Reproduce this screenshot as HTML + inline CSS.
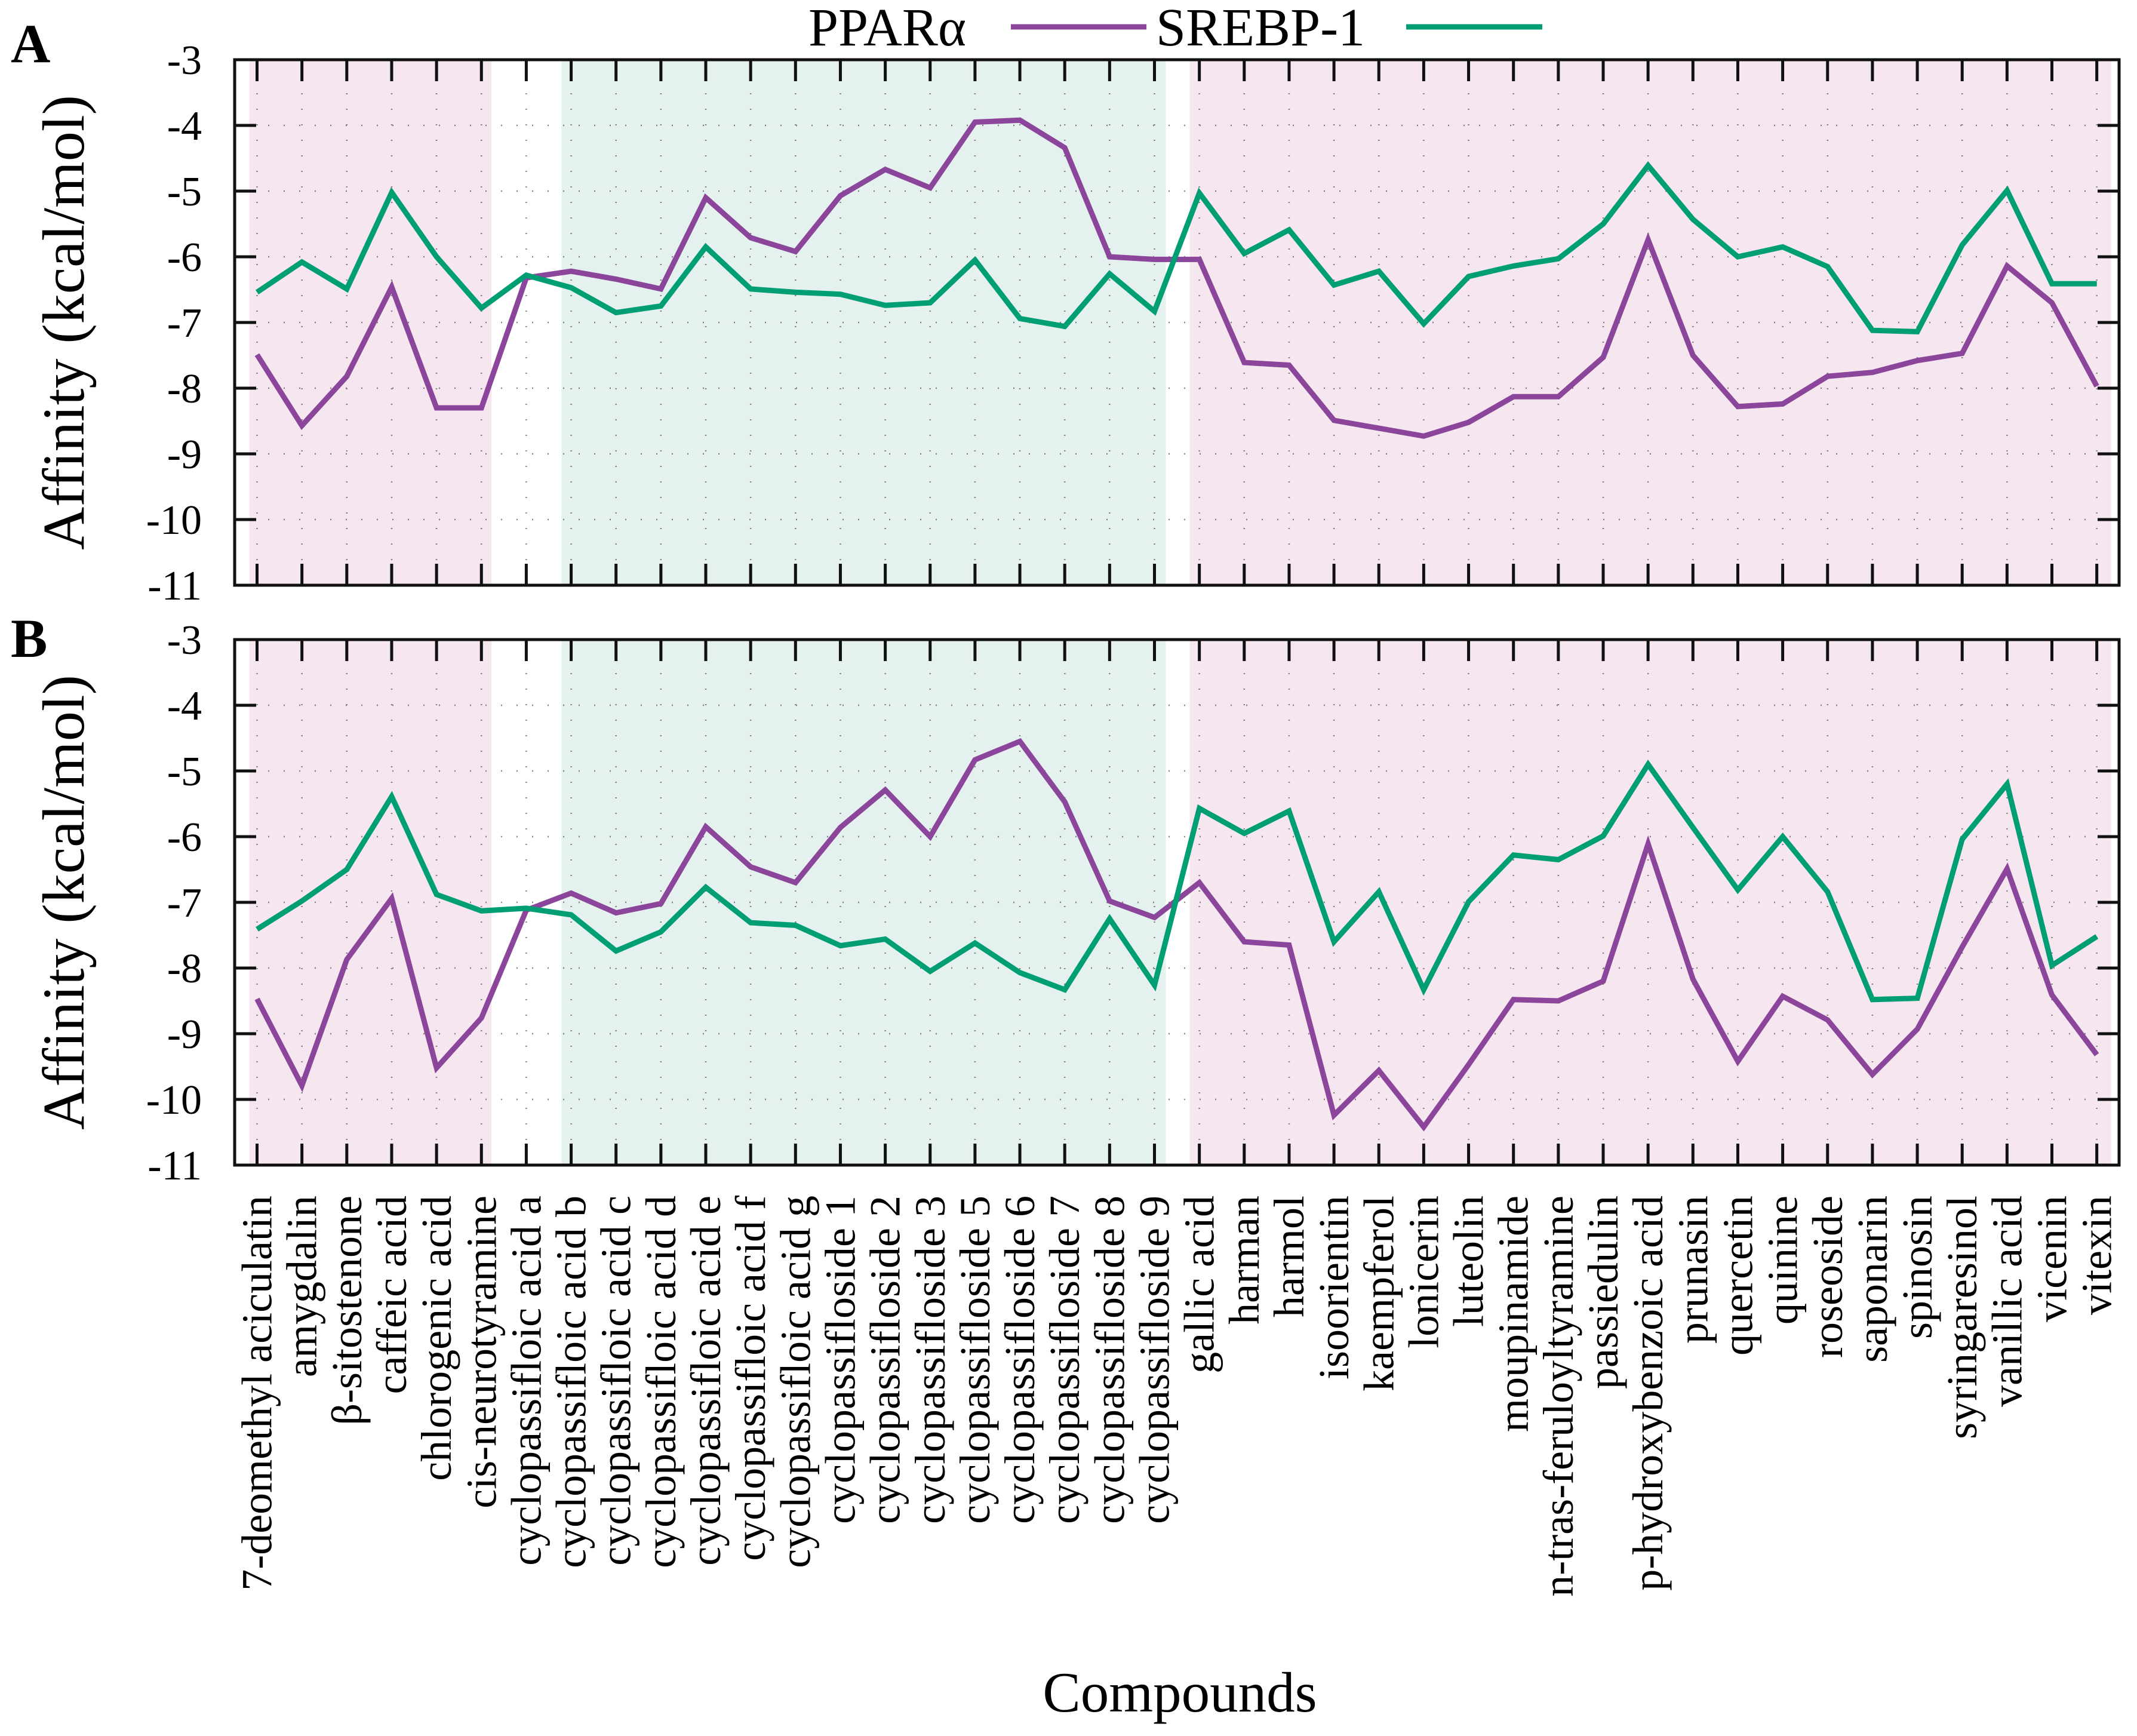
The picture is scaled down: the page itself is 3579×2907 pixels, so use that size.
<!DOCTYPE html>
<html>
<head>
<meta charset="utf-8">
<style>
  html,body{margin:0;padding:0;background:#fff;}
  svg{display:block;}
  text{font-family:"Liberation Serif","DejaVu Serif",serif;fill:#000;}
</style>
</head>
<body>
<svg id="chart" xmlns="http://www.w3.org/2000/svg" width="3579" height="2907" viewBox="0 0 3579 2907">
  <g id="legend">
    <text x="1354" y="76" font-size="90">PPARα</text>
    <line x1="1693" y1="45" x2="1920" y2="45" stroke="#8B459B" stroke-width="9"/>
    <text x="1936" y="76" font-size="90">SREBP-1</text>
    <line x1="2355" y1="45" x2="2583" y2="45" stroke="#009E73" stroke-width="9"/>
  </g>
  <text x="18" y="104" font-size="92" font-weight="bold">A</text>
  <text x="18" y="1100" font-size="92" font-weight="bold">B</text>
  <text x="1976" y="2866" font-size="95" text-anchor="middle">Compounds</text>
  <g id="panelA"></g>
  <g id="panelB"></g>
  <g id="xlabels"></g>
</svg>
<script>
const categories = ["7-deomethyl aciculatin","amygdalin","β-sitostenone","caffeic acid","chlorogenic acid","cis-neurotyramine","cyclopassifloic acid a","cyclopassifloic acid b","cyclopassifloic acid c","cyclopassifloic acid d","cyclopassifloic acid e","cyclopassifloic acid f","cyclopassifloic acid g","cyclopassifloside 1","cyclopassifloside 2","cyclopassifloside 3","cyclopassifloside 5","cyclopassifloside 6","cyclopassifloside 7","cyclopassifloside 8","cyclopassifloside 9","gallic acid","harman","harmol","isoorientin","kaempferol","lonicerin","luteolin","moupinamide","n-tras-feruloyltyramine","passiedulin","p-hydroxybenzoic acid","prunasin","quercetin","quinine","roseoside","saponarin","spinosin","syringaresinol","vanillic acid","vicenin","vitexin"];
const pparA = [-7.49,-8.57,-7.82,-6.46,-8.30,-8.30,-6.32,-6.22,-6.34,-6.49,-5.10,-5.71,-5.92,-5.07,-4.67,-4.95,-3.95,-3.92,-4.34,-6.00,-6.04,-6.04,-7.61,-7.65,-8.49,-8.61,-8.73,-8.52,-8.13,-8.13,-7.53,-5.74,-7.50,-8.28,-8.24,-7.82,-7.76,-7.58,-7.47,-6.14,-6.70,-7.97];
const srebpA = [-6.54,-6.08,-6.49,-5.02,-6.00,-6.78,-6.28,-6.47,-6.85,-6.75,-5.85,-6.49,-6.54,-6.57,-6.74,-6.70,-6.05,-6.94,-7.06,-6.26,-6.83,-5.03,-5.95,-5.59,-6.43,-6.22,-7.02,-6.30,-6.14,-6.03,-5.50,-4.61,-5.43,-6.00,-5.85,-6.15,-7.12,-7.14,-5.82,-4.99,-6.41,-6.41];
const pparB = [-8.47,-9.79,-7.87,-6.94,-9.52,-8.76,-7.12,-6.86,-7.16,-7.02,-5.85,-6.46,-6.70,-5.86,-5.29,-6.00,-4.83,-4.55,-5.47,-6.98,-7.23,-6.70,-7.60,-7.65,-10.24,-9.56,-10.42,-9.47,-8.48,-8.50,-8.20,-6.11,-8.17,-9.42,-8.43,-8.79,-9.62,-8.93,-7.68,-6.49,-8.41,-9.32];
const srebpB = [-7.41,-6.98,-6.50,-5.39,-6.88,-7.13,-7.09,-7.19,-7.74,-7.45,-6.77,-7.31,-7.35,-7.66,-7.56,-8.05,-7.62,-8.07,-8.33,-7.25,-8.26,-5.57,-5.95,-5.61,-7.60,-6.84,-8.33,-6.99,-6.28,-6.35,-5.99,-4.90,-5.86,-6.81,-6.00,-6.84,-8.48,-8.46,-6.04,-5.20,-7.96,-7.52];
const yTicks = [-3,-4,-5,-6,-7,-8,-9,-10,-11];
const yTickLabels = ["-3","-4","-5","-6","-7","-8","-9","-10","-11"];
// shaded groups by category index range
const bandStart = [0, 7, 21];
const bandEnd = [5, 20, 41];
const bandKind = ["pink","teal","pink"];

const NS = "http://www.w3.org/2000/svg";
const L = 393, R = 3549, X0 = 430.5, DX = 75.15;
const YMAX = -3, YMIN = -11;
function xPos(i){ return X0 + DX*i; }
function mk(tag, attrs, parent){
  const e = document.createElementNS(NS, tag);
  for (const k in attrs) e.setAttribute(k, attrs[k]);
  parent.appendChild(e);
  return e;
}

function drawPanel(g, top, bottom, ppar, srebp, tag){
  const yPos = v => top + (YMAX - v) / (YMAX - YMIN) * (bottom - top);
  // bands
  for (let b = 0; b < bandStart.length; b++){
    const x1 = Math.max(L+3, xPos(bandStart[b]) - (b===0?13:16));
    const x2 = Math.min(R-3, xPos(bandEnd[b]) + (b===1?19:(b===0?17:24)));
    const r = mk("rect", {x:x1, y:top+2, width:x2-x1, height:bottom-top-4, fill: bandKind[b]==="pink" ? "#F6E6F0" : "#E4F1EE"}, g);
    
    
  }
  // grid
  const grid = mk("g", {stroke:"#555", "stroke-width":2.5, "stroke-dasharray":"2 24", opacity:0.7}, g);
  
  
  for (let i = 0; i < categories.length; i++){
    mk("line", {x1:xPos(i), y1:top+4, x2:xPos(i), y2:bottom-4}, grid);
  }
  for (let t = 1; t < yTicks.length-1; t++){
    mk("line", {x1:L+4, y1:yPos(yTicks[t]), x2:R-4, y2:yPos(yTicks[t])}, grid);
  }
  // ticks
  const ticks = mk("g", {stroke:"#111", "stroke-width":5}, g);
  
  
  for (let i = 0; i < categories.length; i++){
    mk("line", {x1:xPos(i), y1:top, x2:xPos(i), y2:top+36}, ticks);
    mk("line", {x1:xPos(i), y1:bottom, x2:xPos(i), y2:bottom-36}, ticks);
  }
  for (let t = 0; t < yTicks.length; t++){
    const y = yPos(yTicks[t]);
    mk("line", {x1:L, y1:y, x2:L+36, y2:y}, ticks);
    mk("line", {x1:R, y1:y, x2:R-36, y2:y}, ticks);
    const tl = mk("text", {x:338, y:y+24, "font-size":70, "text-anchor":"end"}, g);
    tl.textContent = yTickLabels[t];
    
    
  }
  // series
  const ptsP = ppar.map((v,i) => xPos(i).toFixed(1) + "," + yPos(v).toFixed(1)).join(" ");
  const pl = mk("polyline", {points:ptsP, fill:"none", stroke:"#8B459B", "stroke-width":9, "stroke-linejoin":"miter"}, g);
  
  
  const ptsS = srebp.map((v,i) => xPos(i).toFixed(1) + "," + yPos(v).toFixed(1)).join(" ");
  const sl = mk("polyline", {points:ptsS, fill:"none", stroke:"#009E73", "stroke-width":9, "stroke-linejoin":"miter"}, g);
  
  
  // frame
  const fr = mk("rect", {x:L, y:top, width:R-L, height:bottom-top, fill:"none", stroke:"#111", "stroke-width":5}, g);
  
  
  // y title
  const cy = (top+bottom)/2;
  const yt = mk("text", {x:0, y:0, "font-size":100, "text-anchor":"middle", transform:"translate(140," + cy + ") rotate(-90)"}, g);
  yt.textContent = "Affinity (kcal/mol)";
  
  
}

drawPanel(document.getElementById("panelA"), 100, 980, pparA, srebpA, "a");
drawPanel(document.getElementById("panelB"), 1071, 1951, pparB, srebpB, "b");

const xl = document.getElementById("xlabels");
for (let i = 0; i < categories.length; i++){
  const t = mk("text", {x:0, y:0, "font-size":72, "text-anchor":"end", transform:"translate(" + (xPos(i)+24).toFixed(1) + ",2002) rotate(-90)"}, xl);
  t.textContent = categories[i];
  
  
}
</script>
</body>
</html>
